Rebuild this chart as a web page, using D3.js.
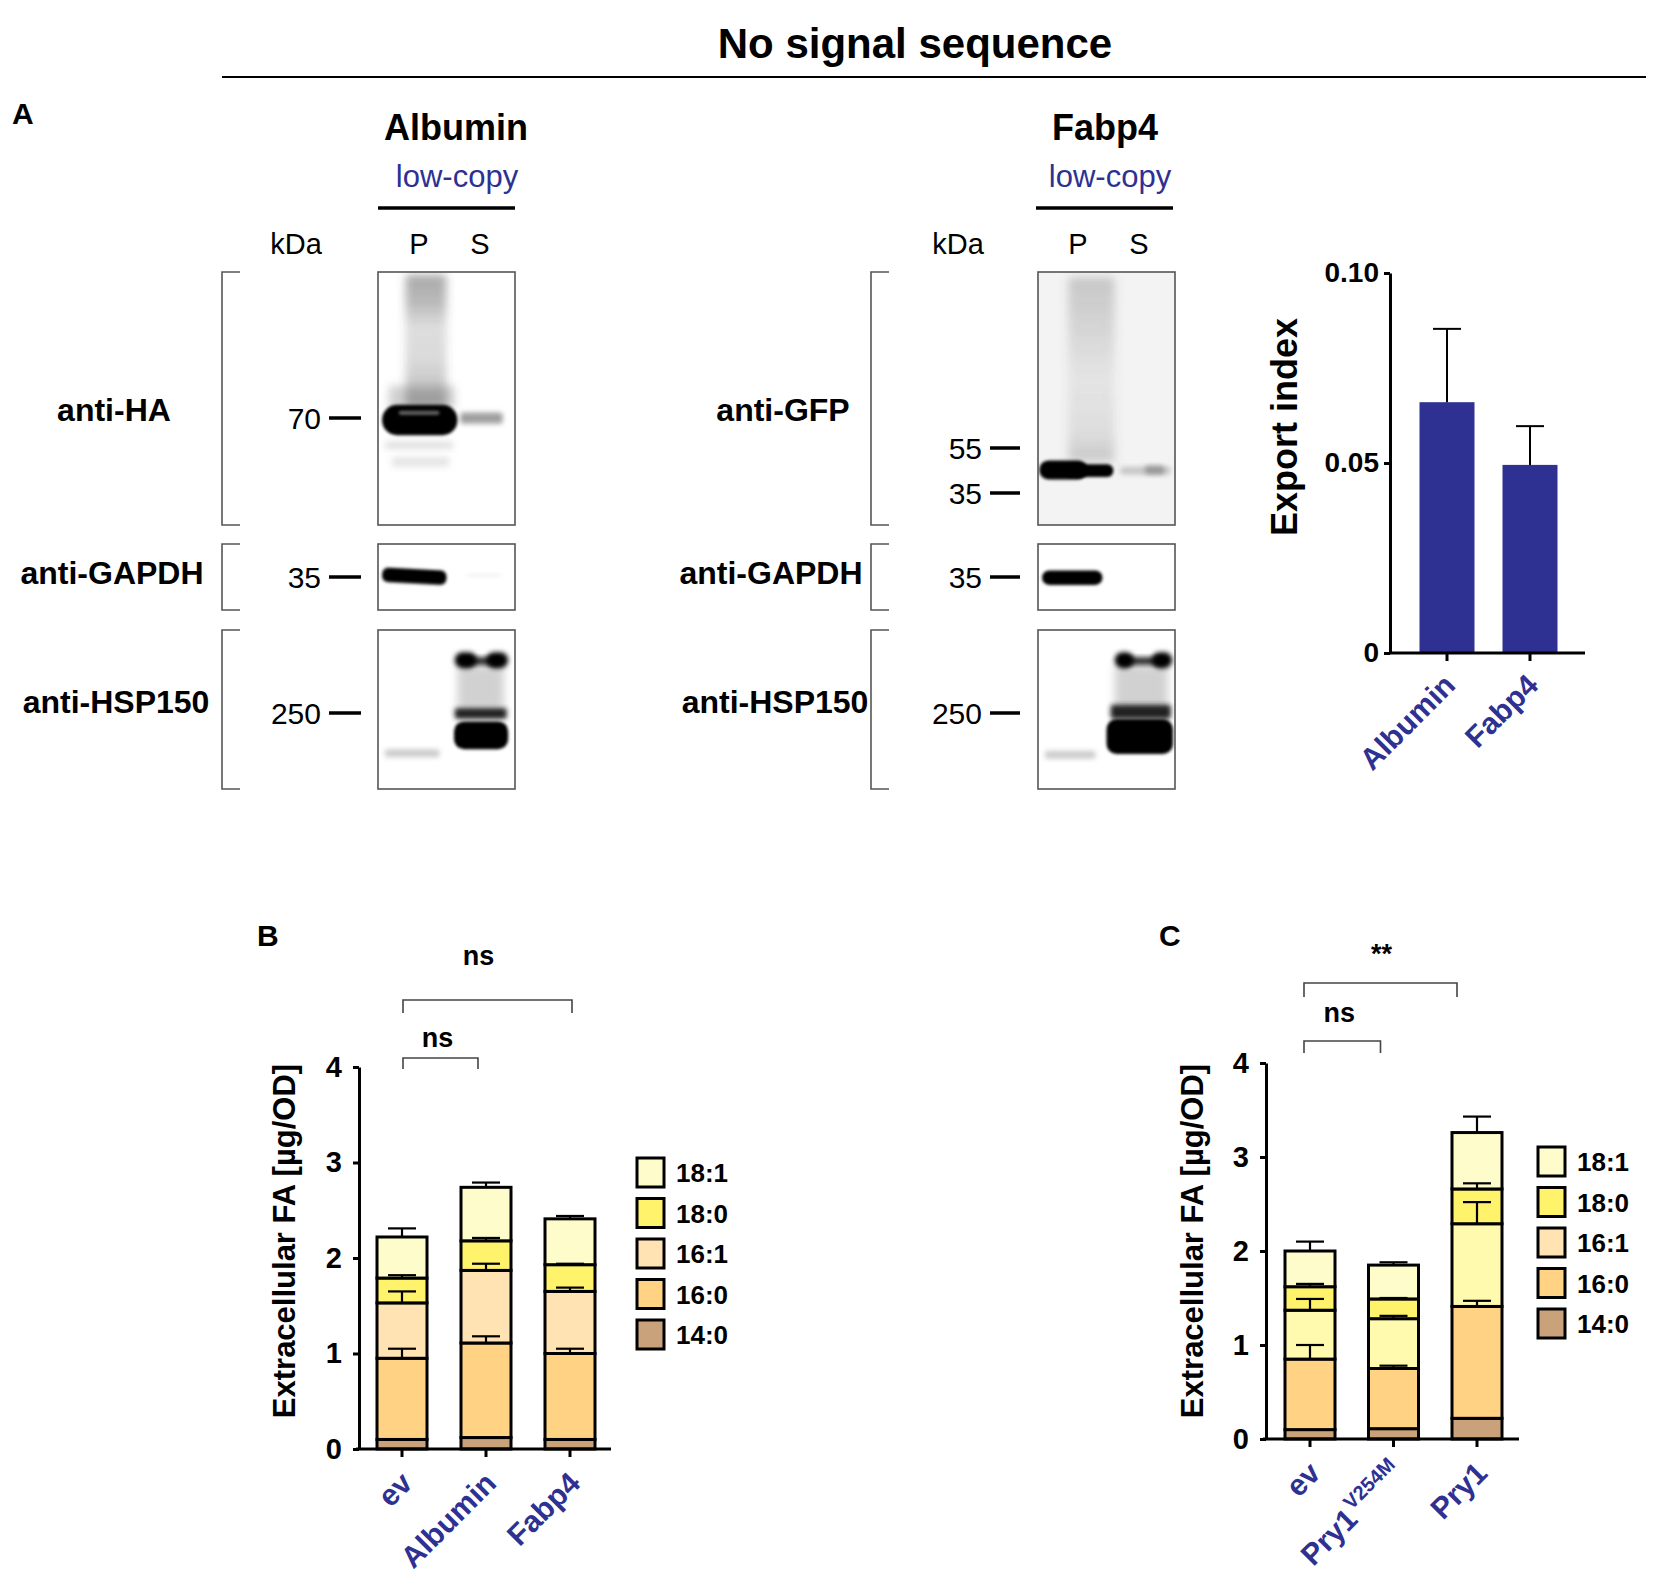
<!doctype html>
<html>
<head>
<meta charset="utf-8"/>
<title>No signal sequence</title>
<script src="https://d3js.org/d3.v7.min.js"></script>
<style>
  body { margin: 0; background: #fff; }
  svg text { font-family: "Liberation Sans", Arial, Helvetica, sans-serif; }
</style>
</head>
<body>
<script>
// ---- data ----
const exportCats  = ["Albumin", "Fabp4"];
const exportIndex = [0.066, 0.0495];
const exportErr   = [0.0193, 0.0102];
const exportTicks = [0, 0.05, 0.10];

const faLevels    = ["14:0", "16:0", "16:1", "18:0", "18:1"];
const legendOrder = ["18:1", "18:0", "16:1", "16:0", "14:0"];
const faTicks     = [0, 1, 2, 3, 4];

// panel B: segment heights per group, order of faLevels
const groupsB = ["ev", "Albumin", "Fabp4"];
const valuesB = [
  [0.10, 0.85, 0.58, 0.26, 0.43],
  [0.12, 0.99, 0.76, 0.31, 0.56],
  [0.10, 0.90, 0.65, 0.28, 0.48]
];
const errorsB = [
  [0, 0.10, 0.12, 0.03, 0.09],
  [0, 0.07, 0.07, 0.03, 0.05],
  [0, 0.05, 0.04, 0.01, 0.03]
];

// panel C
const groupsC = ["ev", "Pry1^V254M", "Pry1"];
const valuesC = [
  [0.10, 0.75, 0.52, 0.25, 0.38],
  [0.11, 0.64, 0.53, 0.21, 0.36],
  [0.22, 1.19, 0.88, 0.37, 0.60]
];
const errorsC = [
  [0, 0.15, 0.12, 0.03, 0.10],
  [0, 0.03, 0.03, 0.01, 0.03],
  [0, 0.06, 0.23, 0.06, 0.17]
];

// blot labels
const lanes = ["P", "S"];
const antibodiesAlb = ["anti-HA", "anti-GAPDH", "anti-HSP150"];
const antibodiesFab = ["anti-GFP", "anti-GAPDH", "anti-HSP150"];
const markersAlb = [["70"], ["35"], ["250"]];
const markersFab = [["55", "35"], ["35"], ["250"]];

// ---- styles ----
const BLUE = "#2e3192";
const faColors  = ["#c9a27c", "#ffd383", "#ffe3b3", "#fff36b", "#fffccb"];
const faColorsC = ["#c9a27c", "#ffd383", "#fffaae", "#fff36b", "#fffccb"];

const W = 1654, H = 1582;
const svg = d3.select("body").append("svg")
  .attr("width", W).attr("height", H).attr("viewBox", `0 0 ${W} ${H}`);
const defs = svg.append("defs");

[1.8, 2.5, 3, 4, 5].forEach(s => {
  defs.append("filter").attr("id", "blur" + String(s).replace(".", "_"))
    .attr("x", "-50%").attr("y", "-50%").attr("width", "200%").attr("height", "200%")
    .append("feGaussianBlur").attr("stdDeviation", s);
});
function grad(id, color, stops) {
  const lg = defs.append("linearGradient").attr("id", id)
    .attr("x1", 0).attr("y1", 0).attr("x2", 0).attr("y2", 1);
  stops.forEach(s => lg.append("stop").attr("offset", s[0])
    .attr("stop-color", color).attr("stop-opacity", s[1]));
}
grad("smearA", "#444", [[0, 0.45], [0.2, 0.38], [0.4, 0.18], [0.65, 0.2], [0.85, 0.3], [1, 0.5]]);
grad("smearF", "#555", [[0, 0.28], [0.25, 0.2], [0.55, 0.09], [0.85, 0.14], [1, 0.28]]);

function txt(g, x, y, s, size, o = {}) {
  return g.append("text").attr("x", x).attr("y", y).attr("font-size", size)
    .attr("font-weight", o.bold ? "bold" : "normal")
    .attr("text-anchor", o.anchor || "start")
    .attr("fill", o.fill || "#000").text(s);
}

// ---- header ----
txt(svg, 915, 58, "No signal sequence", 42, { bold: true, anchor: "middle" });
svg.append("line").attr("x1", 222).attr("x2", 1646).attr("y1", 77).attr("y2", 77)
  .attr("stroke", "#000").attr("stroke-width", 2);
txt(svg, 12, 124, "A", 30, { bold: true });
txt(svg, 257, 946, "B", 30, { bold: true });
txt(svg, 1159, 946, "C", 30, { bold: true });

// ---- western blots ----
const stripY = [[272, 525], [544, 610], [630, 789]];

// band shapes in box-relative units (0..1)
const bandsAlb = [
  [
    { x: [0.20, 0.50], y: [0.01, 0.53], fill: "url(#smearA)", blur: 4 },
    { x: [0.08, 0.56], y: [0.45, 0.54], fill: "#777", op: 0.35, blur: 4 },
    { x: [0.05, 0.55], y: [0.67, 0.70], fill: "#999", op: 0.3, blur: 3 },
    { x: [0.10, 0.52], y: [0.73, 0.77], fill: "#999", op: 0.25, blur: 3 },
    { x: [0.03, 0.58], y: [0.525, 0.645], fill: "#000", blur: 1.8, rx: 15 },
    { x: [0.15, 0.45], y: [0.548, 0.565], fill: "#888", op: 0.7, blur: 1.8 },
    { x: [0.60, 0.91], y: [0.555, 0.60], fill: "#777", op: 0.7, blur: 2.5 }
  ],
  [
    { x: [0.03, 0.50], y: [0.38, 0.60], fill: "#000", blur: 1.8, rx: 6, rot: 3 },
    { x: [0.65, 0.90], y: [0.45, 0.50], fill: "#ccc", op: 0.3, blur: 2.5 }
  ],
  [
    { x: [0.58, 0.92], y: [0.22, 0.50], fill: "#999", op: 0.45, blur: 4 },
    { x: [0.60, 0.90], y: [0.17, 0.22], fill: "#333", blur: 2.5 },
    { x: [0.56, 0.72], y: [0.14, 0.24], fill: "#000", blur: 2.5, rx: 8 },
    { x: [0.79, 0.95], y: [0.14, 0.24], fill: "#000", blur: 2.5, rx: 8 },
    { x: [0.56, 0.94], y: [0.49, 0.56], fill: "#222", blur: 2.5 },
    { x: [0.555, 0.95], y: [0.575, 0.75], fill: "#000", blur: 1.8, rx: 10 },
    { x: [0.05, 0.45], y: [0.75, 0.80], fill: "#999", op: 0.5, blur: 2.5 }
  ]
];
const bandsFab = [
  [
    { x: [0.22, 0.56], y: [0.02, 0.75], fill: "url(#smearF)", blur: 5 },
    { x: [0.01, 0.36], y: [0.745, 0.82], fill: "#000", blur: 1.8, rx: 9 },
    { x: [0.20, 0.55], y: [0.76, 0.81], fill: "#000", blur: 1.8, rx: 6 },
    { x: [0.60, 0.97], y: [0.77, 0.80], fill: "#999", op: 0.5, blur: 2.5 },
    { x: [0.78, 0.92], y: [0.765, 0.80], fill: "#777", op: 0.6, blur: 2.5 }
  ],
  [
    { x: [0.03, 0.47], y: [0.40, 0.62], fill: "#000", blur: 1.8, rx: 7 }
  ],
  [
    { x: [0.56, 0.95], y: [0.22, 0.50], fill: "#999", op: 0.45, blur: 4 },
    { x: [0.60, 0.92], y: [0.17, 0.22], fill: "#333", blur: 2.5 },
    { x: [0.56, 0.70], y: [0.14, 0.24], fill: "#000", blur: 2.5, rx: 8 },
    { x: [0.83, 0.98], y: [0.14, 0.24], fill: "#000", blur: 2.5, rx: 8 },
    { x: [0.53, 0.97], y: [0.47, 0.56], fill: "#222", blur: 2.5 },
    { x: [0.50, 0.985], y: [0.56, 0.78], fill: "#000", blur: 1.8, rx: 10 },
    { x: [0.05, 0.42], y: [0.76, 0.81], fill: "#999", op: 0.5, blur: 2.5 }
  ]
];

const blotPanels = [
  { title: "Albumin", antibodies: antibodiesAlb, markers: markersAlb, markerY: [[418], [577], [713]],
    box: 378, boxW: 137, bracket: 222, labelCx: [114, 112, 116], labelY: [421, 584, 713],
    mark: [329, 361], kDaX: 296, laneX: [419, 480], titleCx: 456, lowCx: 457, line: [378, 515],
    bands: bandsAlb, bg: ["#fff", "#fff", "#fff"] },
  { title: "Fabp4", antibodies: antibodiesFab, markers: markersFab, markerY: [[448, 493], [577], [713]],
    box: 1038, boxW: 137, bracket: 871, labelCx: [783, 771, 775], labelY: [421, 584, 713],
    mark: [990, 1020], kDaX: 958, laneX: [1078, 1139], titleCx: 1105, lowCx: 1110, line: [1036, 1173],
    bands: bandsFab, bg: ["#f3f3f3", "#fff", "#fff"] }
];

blotPanels.forEach((p, pi) => {
  const g = svg.append("g");
  txt(g, p.titleCx, 140, p.title, 36, { bold: true, anchor: "middle" });
  txt(g, p.lowCx, 187, "low-copy", 31, { anchor: "middle", fill: BLUE });
  g.append("line").attr("x1", p.line[0]).attr("x2", p.line[1]).attr("y1", 208).attr("y2", 208)
    .attr("stroke", "#000").attr("stroke-width", 3.5);
  txt(g, p.kDaX, 254, "kDa", 29, { anchor: "middle" });
  lanes.forEach((l, i) => txt(g, p.laneX[i], 254, l, 29, { anchor: "middle" }));

  stripY.forEach((sy, si) => {
    const xs = d3.scaleLinear().domain([0, 1]).range([p.box, p.box + p.boxW]);
    const ys = d3.scaleLinear().domain([0, 1]).range(sy);
    const cid = `clip${pi}_${si}`;
    defs.append("clipPath").attr("id", cid).append("rect")
      .attr("x", xs(0)).attr("y", ys(0)).attr("width", p.boxW).attr("height", sy[1] - sy[0]);
    g.append("rect").attr("x", xs(0)).attr("y", ys(0)).attr("width", p.boxW)
      .attr("height", sy[1] - sy[0]).attr("fill", p.bg[si]);
    const bg = g.append("g").attr("clip-path", `url(#${cid})`);
    p.bands[si].forEach(b => {
      const cx = (xs(b.x[0]) + xs(b.x[1])) / 2, cy = (ys(b.y[0]) + ys(b.y[1])) / 2;
      bg.append("rect")
        .attr("x", xs(b.x[0])).attr("y", ys(b.y[0]))
        .attr("width", xs(b.x[1]) - xs(b.x[0])).attr("height", ys(b.y[1]) - ys(b.y[0]))
        .attr("rx", b.rx || 3)
        .attr("fill", b.fill).attr("fill-opacity", b.op == null ? 1 : b.op)
        .attr("filter", `url(#blur${String(b.blur).replace(".", "_")})`)
        .attr("transform", b.rot ? `rotate(${b.rot},${cx},${cy})` : null);
    });
    g.append("rect").attr("x", xs(0)).attr("y", ys(0)).attr("width", p.boxW)
      .attr("height", sy[1] - sy[0]).attr("fill", "none")
      .attr("stroke", "#555").attr("stroke-width", 1.6);
    // bracket
    g.append("path")
      .attr("d", `M${p.bracket + 18},${sy[0]}H${p.bracket}V${sy[1]}H${p.bracket + 18}`)
      .attr("fill", "none").attr("stroke", "#555").attr("stroke-width", 1.6);
    txt(g, p.labelCx[si], p.labelY[si], p.antibodies[si], 32, { bold: true, anchor: "middle" });
    p.markers[si].forEach((m, mi) => {
      const my = p.markerY[si][mi];
      txt(g, p.mark[0] - 8, my + 11, m, 30, { anchor: "end" });
      g.append("line").attr("x1", p.mark[0]).attr("x2", p.mark[1]).attr("y1", my).attr("y2", my)
        .attr("stroke", "#000").attr("stroke-width", 3.5);
    });
  });
});

// ---- export index bar chart ----
(function () {
  const g = svg.append("g");
  const x = d3.scalePoint().domain(exportCats).range([1447, 1530]);
  const y = d3.scaleLinear().domain([0, 0.10]).range([653, 273]);
  const bw = 55;
  g.selectAll(".ebar").data(exportCats).enter().append("rect")
    .attr("x", d => x(d) - bw / 2).attr("width", bw)
    .attr("y", (d, i) => y(exportIndex[i])).attr("height", (d, i) => y(0) - y(exportIndex[i]))
    .attr("fill", BLUE);
  exportCats.forEach((c, i) => {
    const top = y(exportIndex[i] + exportErr[i]);
    g.append("line").attr("x1", x(c)).attr("x2", x(c)).attr("y1", y(exportIndex[i])).attr("y2", top)
      .attr("stroke", "#000").attr("stroke-width", 2);
    g.append("line").attr("x1", x(c) - 14).attr("x2", x(c) + 14).attr("y1", top).attr("y2", top)
      .attr("stroke", "#000").attr("stroke-width", 2);
  });
  const ax = g.append("g").attr("transform", "translate(1390,0)")
    .call(d3.axisLeft(y).tickValues(exportTicks).tickSize(6).tickSizeOuter(0).tickPadding(5)
      .tickFormat(d => d === 0 ? "0" : d3.format(".2f")(d)));
  ax.selectAll("path, line").attr("stroke", "#000").attr("stroke-width", 3);
  ax.selectAll("text").attr("font-size", 28).attr("font-weight", "bold").attr("fill", "#000");
  g.append("line").attr("x1", 1389).attr("x2", 1585).attr("y1", y(0)).attr("y2", y(0))
    .attr("stroke", "#000").attr("stroke-width", 3);
  exportCats.forEach(c => {
    g.append("line").attr("x1", x(c)).attr("x2", x(c)).attr("y1", y(0)).attr("y2", y(0) + 8)
      .attr("stroke", "#000").attr("stroke-width", 3);
    txt(g, 0, 0, c, 30, { bold: true, anchor: "end", fill: BLUE })
      .attr("transform", `translate(${x(c) + 10},${y(0) + 34}) rotate(-45)`);
  });
  txt(g, 0, 0, "Export index", 36, { bold: true, anchor: "middle" })
    .attr("transform", "translate(1297,427) rotate(-90)");
})();

// ---- stacked fatty-acid charts ----
function stackedChart(o) {
  const g = svg.append("g");
  const rows = o.groups.map((name, i) => {
    const r = { group: name };
    faLevels.forEach((k, j) => { r[k] = o.values[i][j]; });
    return r;
  });
  const series = d3.stack().keys(faLevels)(rows);
  const x = d3.scalePoint().domain(o.groups).range(o.xRange);
  const y = d3.scaleLinear().domain([0, 4]).range(o.yRange);
  const bw = 50;

  series.forEach((s, j) => {
    g.selectAll(null).data(s).enter().append("rect")
      .attr("x", d => x(d.data.group) - bw / 2).attr("width", bw)
      .attr("y", d => y(d[1])).attr("height", d => y(d[0]) - y(d[1]))
      .attr("fill", o.colors[j]).attr("stroke", "#000").attr("stroke-width", 3);
  });
  series.forEach((s, j) => {
    s.forEach((d, i) => {
      const e = o.errors[i][j];
      if (!e) return;
      const cx = x(d.data.group), top = y(d[1] + e);
      g.append("line").attr("x1", cx).attr("x2", cx).attr("y1", y(d[1])).attr("y2", top)
        .attr("stroke", "#000").attr("stroke-width", 2.2);
      g.append("line").attr("x1", cx - 14).attr("x2", cx + 14).attr("y1", top).attr("y2", top)
        .attr("stroke", "#000").attr("stroke-width", 2.2);
    });
  });

  const ax = g.append("g").attr("transform", `translate(${o.axisX},0)`)
    .call(d3.axisLeft(y).tickValues(faTicks).tickSize(6).tickSizeOuter(0).tickPadding(11)
      .tickFormat(d3.format("d")));
  ax.selectAll("path, line").attr("stroke", "#000").attr("stroke-width", 3);
  ax.selectAll("text").attr("font-size", 29).attr("font-weight", "bold").attr("fill", "#000");
  g.append("line").attr("x1", o.axisX - 3).attr("x2", o.xEnd).attr("y1", y(0)).attr("y2", y(0))
    .attr("stroke", "#000").attr("stroke-width", 3);

  o.groups.forEach(name => {
    g.append("line").attr("x1", x(name)).attr("x2", x(name)).attr("y1", y(0)).attr("y2", y(0) + 8)
      .attr("stroke", "#000").attr("stroke-width", 3);
    const parts = name.split("^");
    const t = txt(g, 0, 0, parts[0], 30, { bold: true, anchor: "end", fill: BLUE })
      .attr("transform", `translate(${x(name) + 12},${y(0) + 36}) rotate(-45)`);
    if (parts[1]) {
      t.append("tspan").attr("font-size", 20).attr("dy", -13).attr("dx", 2).text(parts[1]);
    }
  });

  txt(g, 0, 0, "Extracellular FA [\u00b5g/OD]", 31, { bold: true, anchor: "middle" })
    .attr("transform", `translate(${o.labelX},1241) rotate(-90)`);

  // legend
  legendOrder.forEach((k, i) => {
    const ly = o.legendY + i * 40.5;
    g.append("rect").attr("x", o.legendX).attr("y", ly).attr("width", 27).attr("height", 29)
      .attr("fill", faColors[faLevels.indexOf(k)]).attr("stroke", "#000").attr("stroke-width", 3);
    txt(g, o.legendX + 39, ly + 24, k, 26, { bold: true });
  });

  // significance brackets
  o.stats.forEach(s => {
    const x1 = x(s.from) + o.inset[0], x2 = x(s.to) + s.inset;
    g.append("path").attr("d", `M${x1},${s.y + s.leg}V${s.y}H${x2}V${s.y + s.leg}`)
      .attr("fill", "none").attr("stroke", "#444").attr("stroke-width", 1.6);
    txt(g, (x1 + x2) / 2 + s.shift, s.y - s.gap, s.label, 27, { bold: true, anchor: "middle" });
  });
}

stackedChart({
  groups: groupsB, values: valuesB, errors: errorsB, colors: faColors,
  xRange: [402, 570], yRange: [1449, 1067], axisX: 359, xEnd: 611, labelX: 295,
  legendX: 637, legendY: 1158, inset: [1],
  stats: [
    { from: "ev", to: "Fabp4", label: "ns", y: 1000, leg: 13, gap: 35, inset: 2, shift: -9 },
    { from: "ev", to: "Albumin", label: "ns", y: 1058, leg: 11, gap: 11, inset: -8, shift: -3 }
  ]
});

stackedChart({
  groups: groupsC, values: valuesC, errors: errorsC, colors: faColorsC,
  xRange: [1310, 1477], yRange: [1439, 1063], axisX: 1266, xEnd: 1519, labelX: 1203,
  legendX: 1538, legendY: 1147, inset: [-6],
  stats: [
    { from: "ev", to: "Pry1", label: "**", y: 983, leg: 14, gap: 20, inset: -20, shift: 1 },
    { from: "ev", to: "Pry1^V254M", label: "ns", y: 1041, leg: 12, gap: 19, inset: -13, shift: -3 }
  ]
});
</script>
</body>
</html>
